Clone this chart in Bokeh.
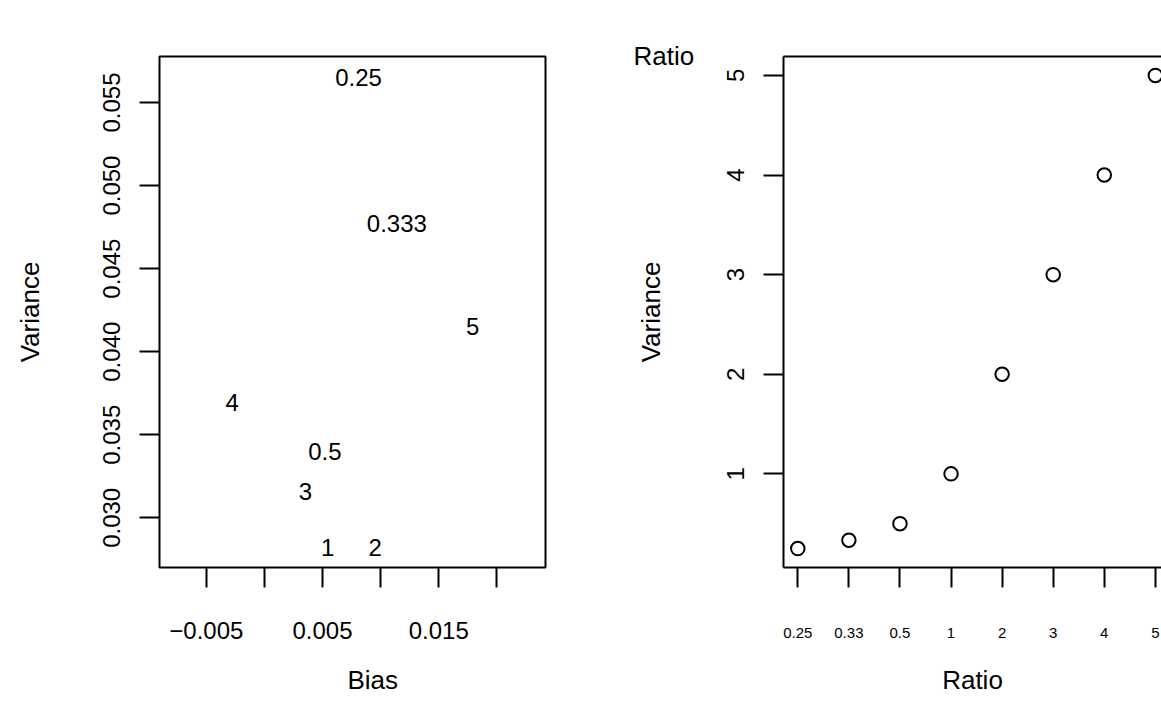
from bokeh.plotting import figure
from bokeh.layouts import row
from bokeh.models import (FixedTicker, CustomJSTickFormatter, Range1d, LinearAxis,
                          Title, ColumnDataSource)
from bokeh.embed import file_html
from bokeh.resources import INLINE
from bokeh.core.properties import value

# ---------------- data ----------------
ratio_labels = ["0.25", "0.333", "0.5", "1", "2", "3", "4", "5"]
bias = [0.0081, 0.0114, 0.0052, 0.00545, 0.00953, 0.00353, -0.00277, 0.01792]
variance = [0.05652, 0.04772, 0.03397, 0.02824, 0.02824, 0.03157, 0.03695, 0.04153]

ratio_values = [0.25, 0.333, 0.5, 1, 2, 3, 4, 5]
ratio_tick_labels = ["0.25", "0.33", "0.5", "1", "2", "3", "4", "5"]

bias_ticks = [-0.005, 0.0, 0.005, 0.01, 0.015, 0.02]
variance_ticks = [0.030, 0.035, 0.040, 0.045, 0.050, 0.055]
ratio_y_ticks = [1, 2, 3, 4, 5]

FONT = "Liberation Sans"
FS = "24px"
TFS = "26px"
H = 719
FRAME_TOP, FRAME_BOTTOM = 56, 567


def style_axis(ax, tick_out=20):
    ax.major_tick_out = tick_out
    ax.major_tick_in = 0
    ax.minor_tick_out = 0
    ax.minor_tick_in = 0
    ax.major_tick_line_width = 2
    ax.major_tick_line_color = "black"
    ax.major_label_text_font = FONT
    ax.major_label_text_font_size = FS
    ax.major_label_text_color = "black"
    ax.axis_label_text_font = FONT
    ax.axis_label_text_font_size = TFS
    ax.axis_label_text_font_style = "normal"
    ax.axis_label_text_color = "black"


# ---------------- left panel ----------------
L1, W1 = 159, 386
p1 = figure(width=580, height=H, output_backend="svg", toolbar_location=None,
            x_range=Range1d(-0.00903, 0.02419), y_range=Range1d(0.02701, 0.05777),
            min_border_left=L1, min_border_right=580 - L1 - W1,
            min_border_top=FRAME_TOP, min_border_bottom=H - FRAME_BOTTOM)
p1.grid.visible = False
p1.outline_line_color = "black"
p1.outline_line_width = 2
p1.outline_line_alpha = 1
p1.background_fill_color = "white"
p1.border_fill_color = "white"

src = ColumnDataSource(dict(x=bias, y=variance, t=ratio_labels))
p1.text(x="x", y="y", text="t", source=src, text_align="center",
        text_baseline="middle", text_font=value(FONT), text_font_size=value(FS),
        text_color="black")

xa = p1.xaxis[0]
style_axis(xa)
xa.ticker = FixedTicker(ticks=bias_ticks[::2], minor_ticks=bias_ticks[1::2])
xa.minor_tick_out = 20
xa.minor_tick_line_width = 2
xa.minor_tick_line_color = "black"
xa.formatter = CustomJSTickFormatter(
    code="return tick < 0 ? '\u2212' + Math.abs(tick).toFixed(3) : tick.toFixed(3);")
xa.axis_line_color = None
xa.major_label_standoff = 34

ya = p1.yaxis[0]
style_axis(ya)
ya.ticker = FixedTicker(ticks=variance_ticks)
ya.formatter = CustomJSTickFormatter(code="return tick.toFixed(3);")
ya.major_label_orientation = "vertical"
ya.axis_line_color = None
ya.major_label_standoff = 19
ya.axis_label = "Variance"
ya.axis_label_standoff = 56

# x title "Bias" (sits right of the box centre in the original)
p1.add_layout(Title(text="Bias", align="left", offset=188, vertical_align="middle",
                    standoff=44, text_font=FONT, text_font_size=TFS,
                    text_font_style="normal", text_color="black"), "below")

# ---------------- right panel ----------------
L2, W2 = 203, 378
p2 = figure(width=L2 + W2, height=H, output_backend="svg", toolbar_location=None,
            x_range=Range1d(0.72, 8.12), y_range=Range1d(0.06, 5.19),
            min_border_left=L2, min_border_right=0,
            min_border_top=FRAME_TOP, min_border_bottom=H - FRAME_BOTTOM)
p2.grid.visible = False
p2.outline_line_color = None
p2.background_fill_color = "white"
p2.border_fill_color = "white"

x_pos = list(range(1, len(ratio_values) + 1))
p2.scatter(x=x_pos, y=ratio_values, marker="circle", size=13.5,
           fill_color=None, line_color="black", line_width=2)

xb = p2.xaxis[0]
style_axis(xb)
xb.ticker = FixedTicker(ticks=x_pos)
xb.major_label_overrides = {i: lab for i, lab in zip(x_pos, ratio_tick_labels)}
xb.major_label_text_font_size = "15px"
xb.axis_line_width = 2
xb.axis_line_color = "black"
xb.major_label_standoff = 40
xb.axis_label = "Ratio"
xb.axis_label_standoff = 24

yb = p2.yaxis[0]
style_axis(yb)
yb.ticker = FixedTicker(ticks=ratio_y_ticks)
yb.major_label_orientation = "vertical"
yb.axis_line_width = 2
yb.axis_line_color = "black"
yb.major_label_standoff = 19
yb.axis_label = "Variance"
yb.axis_label_standoff = 59

# top border of the right box (box is cut at the page edge on the right)
top = LinearAxis(ticker=FixedTicker(ticks=[]), major_tick_out=0, major_tick_in=0,
                 minor_tick_out=0, minor_tick_in=0, axis_line_width=2,
                 axis_line_color="black", major_label_text_font_size="0px",
                 major_label_standoff=0)
p2.add_layout(top, "above")

# heading "Ratio" to the left of the right box, level with its top edge
p2.title.text = "Ratio"
p2.title.align = "left"
p2.title.offset = -150
p2.title.vertical_align = "bottom"
p2.title.standoff = -28
p2.title.text_font = FONT
p2.title.text_font_size = TFS
p2.title.text_font_style = "normal"
p2.title.text_color = "black"

layout = row(p1, p2)
open("out.html", "w").write(file_html(layout, INLINE))
